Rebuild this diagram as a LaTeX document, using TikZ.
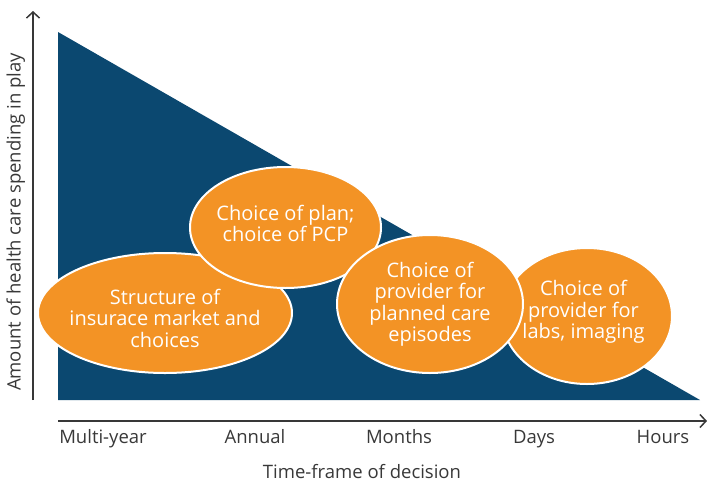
\documentclass[tikz,border=0pt]{standalone}
\usepackage{fontspec}
\setmainfont{Open Sans}
\usetikzlibrary{positioning, arrows.meta, shapes.geometric}
\definecolor{spendblue}{HTML}{0B4870}
\definecolor{choiceorange}{HTML}{F39325}
\definecolor{axisgray}{HTML}{383838}

\begin{document}
\begin{tikzpicture}[
        x=1pt, y=-1pt,
        choice/.style={ellipse, draw=white, line width=2pt, fill=choiceorange, inner sep=0pt},
        choicetext/.style={text=white, align=center, inner sep=0pt, font=\fontsize{20}{21.5}\selectfont},
        axis/.style={-{Straight Barb[length=6pt, width=13pt]}, line width=1.5pt, draw=axisgray},
        tick/.style={text=axisgray, inner sep=0pt, text height=13pt, text depth=4pt, font=\fontsize{18.5}{20}\selectfont}
    ]
    \useasboundingbox (0,0) rectangle (707,485);

    % Spending in play
    \fill[spendblue] (58,32) -- (58,400) -- (700,400) -- cycle;

    % Axes
    \coordinate (yfoot) at (33,400);
    \coordinate (ytip) at (33,11);
    \coordinate (xfoot) at (58,421);
    \coordinate (xtip) at (707,421);
    \draw[axis] (yfoot) -- (ytip);
    \draw[axis] (xfoot) -- (xtip);

    % Time-frames
    \node[tick] (multiyear) at (103,438.5) {Multi-year};
    \node[tick] (annual) at (255,438.5) {Annual};
    \node[tick] (months) at (399,438.5) {Months};
    \node[tick] (days) at (534,438.5) {Days};
    \node[tick] (hours) at (663,438.5) {Hours};
    \node[tick] (xtitle) at (362,474) {Time-frame of decision};
    \node[tick, rotate=90] (ytitle) at (16,222) {Amount of health care spending in play};

    % Choices
    \node[choice, minimum width=254pt, minimum height=120pt,
        label={[choicetext, yshift=-5pt]center:{Structure of\\insurace market and\\choices}}] (insurance) at (165,313) {};
    \node[choice, minimum width=191pt, minimum height=121pt,
        label={[choicetext, yshift=4pt]center:{Choice of plan;\\choice of PCP}}] (plan) at (285.5,227.5) {};
    \node[choice, minimum width=170pt, minimum height=136pt,
        label={[choicetext, xshift=-3.5pt, yshift=4pt]center:{Choice of\\provider for\\labs, imaging}}] (labs) at (587,316) {};
    \node[choice, minimum width=186pt, minimum height=138pt,
        label={[choicetext]center:{Choice of\\provider for\\planned care\\episodes}}] (episodes) at (430,304) {};

\end{tikzpicture}
\end{document}
